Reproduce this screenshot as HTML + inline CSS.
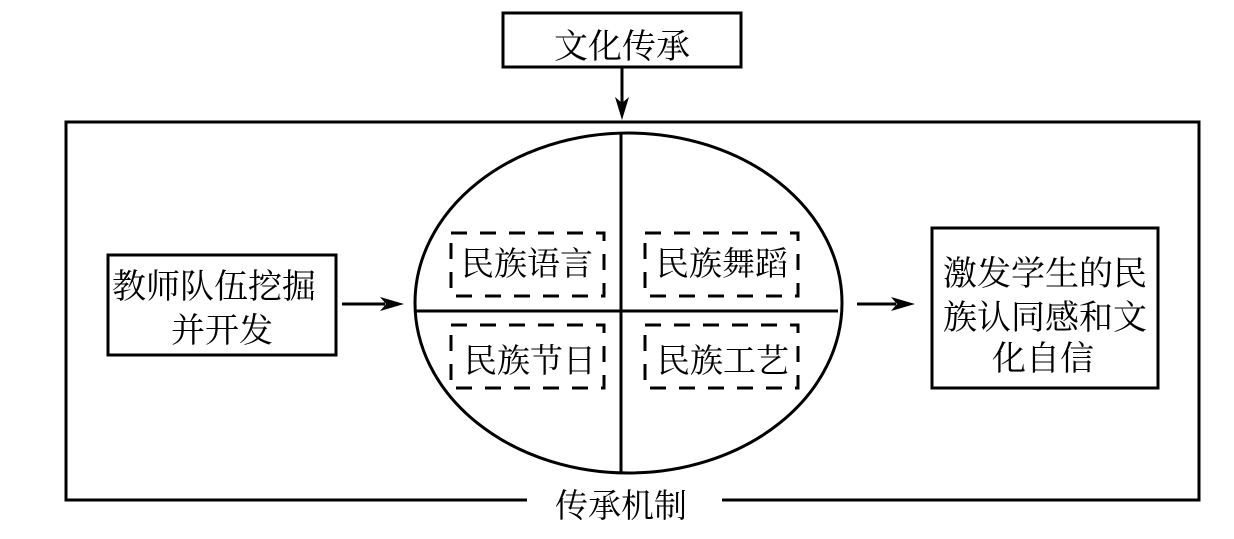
<!DOCTYPE html>
<html>
<head>
<meta charset="utf-8">
<style>
  html, body { margin: 0; padding: 0; background: #fff; }
  svg { display: block; }
  text { font-family: "Liberation Serif", "Noto Serif CJK SC", "Noto Serif CJK JP", "Noto Serif CJK TC", serif; fill: #000; }
</style>
</head>
<body>
<svg width="1234" height="539" viewBox="0 0 1234 539" xmlns="http://www.w3.org/2000/svg">
  <!-- top box -->
  <rect x="503" y="13" width="238" height="54" fill="none" stroke="#000" stroke-width="3"/>
  <text x="622" y="58" font-size="34" text-anchor="middle">文化传承</text>

  <!-- top arrow -->
  <line x1="622" y1="67" x2="622" y2="104" stroke="#000" stroke-width="3"/>
  <polygon points="615,97 622,103 629,97 622,120" fill="#000"/>

  <!-- outer box (bottom with gap) -->
  <path d="M527,500 L66,500 L66,122 L1199,122 L1199,500 L722,500" fill="none" stroke="#000" stroke-width="3"/>
  <text x="621" y="517" font-size="33" text-anchor="middle">传承机制</text>

  <!-- ellipse -->
  <ellipse cx="628.5" cy="303" rx="213.5" ry="170" fill="none" stroke="#000" stroke-width="3"/>
  <line x1="621" y1="133" x2="621" y2="473" stroke="#000" stroke-width="3"/>
  <line x1="415" y1="311" x2="838" y2="311" stroke="#000" stroke-width="3"/>

  <!-- dashed boxes -->
  <g fill="none" stroke="#000" stroke-width="3" stroke-dasharray="16,13">
    <rect x="451" y="233" width="153" height="63"/>
    <rect x="645" y="233" width="153" height="63"/>
    <rect x="451" y="325" width="153" height="63"/>
    <rect x="645" y="325" width="153" height="63"/>
  </g>
  <text x="527" y="275" font-size="33" text-anchor="middle">民族语言</text>
  <text x="722" y="275" font-size="33" text-anchor="middle">民族舞蹈</text>
  <text x="530" y="372" font-size="33" text-anchor="middle">民族节日</text>
  <text x="723" y="372" font-size="33" text-anchor="middle">民族工艺</text>

  <!-- left box -->
  <rect x="108" y="255" width="228" height="100" fill="none" stroke="#000" stroke-width="3"/>
  <text x="214" y="298" font-size="34" text-anchor="middle">教师队伍挖掘</text>
  <text x="222" y="342" font-size="34" text-anchor="middle">并开发</text>

  <!-- left arrow -->
  <line x1="342" y1="304" x2="385" y2="304" stroke="#000" stroke-width="3"/>
  <polygon points="380,297 386,304 380,311 404,304" fill="#000"/>

  <!-- right arrow -->
  <line x1="857" y1="304" x2="896" y2="304" stroke="#000" stroke-width="3"/>
  <polygon points="891,297 897,304 891,311 915,304" fill="#000"/>

  <!-- right box -->
  <rect x="932" y="228" width="226" height="160" fill="none" stroke="#000" stroke-width="3"/>
  <text x="1045" y="285" font-size="34" text-anchor="middle">激发学生的民</text>
  <text x="1045" y="329" font-size="34" text-anchor="middle">族认同感和文</text>
  <text x="1043" y="370" font-size="34" text-anchor="middle">化自信</text>
</svg>
</body>
</html>
